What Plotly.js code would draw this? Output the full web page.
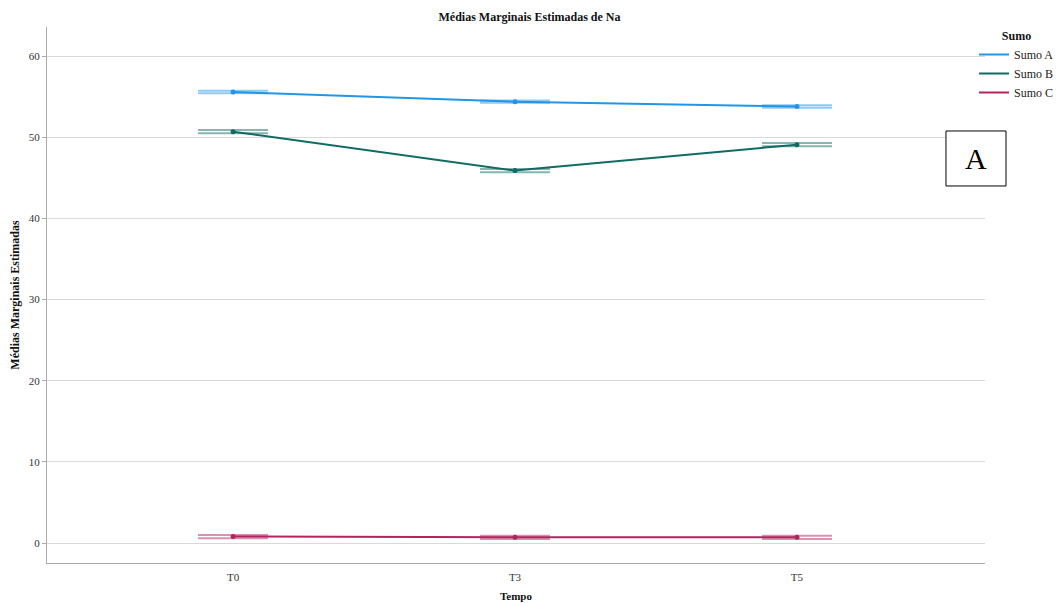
<!DOCTYPE html>
<html>
<head>
<meta charset="utf-8">
<script src="https://cdn.plot.ly/plotly-3.0.1.min.js"></script>
<style>html,body{margin:0;padding:0;background:#fff;}#chart{width:1059px;height:603px;}</style>
</head>
<body>
<div id="chart"></div>
<script>
var categories = ["T0", "T3", "T5"];
var seriesNames = ["Sumo A", "Sumo B", "Sumo C"];
var sumoA = [55.6, 54.4, 53.8];
var sumoB = [50.7, 45.9, 49.1];
var sumoC = [0.8, 0.7, 0.7];
var errA = [0.15, 0.15, 0.15];
var errB = [0.2, 0.2, 0.2];
var errC = [0.2, 0.2, 0.2];
var yTicks = [0, 10, 20, 30, 40, 50, 60];

var lineColors = ["#2196e6", "#0f6b63", "#b3245f"];
var capColors = ["rgba(33,150,230,0.5)", "rgba(15,107,99,0.5)", "rgba(179,36,95,0.5)"];
var values = [sumoA, sumoB, sumoC];
var errs = [errA, errB, errC];

var font = "Liberation Serif, Times New Roman, serif";

var traces = [];
values.forEach(function(v, i) {
  traces.push({
    type: "scatter",
    mode: "markers",
    showlegend: false,
    x: categories,
    y: v,
    marker: {color: lineColors[i], size: 5},
    error_y: {type: "data", array: errs[i], visible: true, width: 35, thickness: 2, color: capColors[i]}
  });
});
values.forEach(function(v, i) {
  traces.push({
    type: "scatter",
    mode: "lines",
    name: seriesNames[i],
    x: categories,
    y: v,
    line: {color: lineColors[i], width: 2}
  });
});

var layout = {
  width: 1059,
  height: 603,
  margin: {l: 47, r: 74, t: 27, b: 40, autoexpand: false},
  paper_bgcolor: "#ffffff",
  plot_bgcolor: "#ffffff",
  font: {family: font, size: 11, color: "#333333"},
  title: {text: "<b>Médias Marginais Estimadas de Na</b>", x: 0.5, xref: "container", y: 0.972, yanchor: "middle", font: {family: font, size: 12, color: "#111111"}},
  xaxis: {
    type: "category",
    range: [-0.66, 2.667],
    showgrid: false,
    zeroline: false,
    showline: true,
    linecolor: "#aaaaaa",
    linewidth: 1,
    ticks: "",
    ticklabelstandoff: 4,
    tickfont: {family: font, size: 11, color: "#333333"},
    title: {text: "<b>Tempo</b>", standoff: 10, font: {family: font, size: 11, color: "#111111"}}
  },
  yaxis: {
    range: [-2.46, 63.6],
    tickvals: yTicks,
    showgrid: true,
    gridcolor: "#d9d9d9",
    gridwidth: 1,
    zeroline: false,
    showline: true,
    linecolor: "#aaaaaa",
    linewidth: 1,
    ticks: "outside",
    ticklen: 4,
    tickcolor: "#aaaaaa",
    tickfont: {family: font, size: 11, color: "#333333"},
    title: {text: "<b>Médias Marginais Estimadas</b>", standoff: 6, font: {family: font, size: 12, color: "#111111"}}
  },
  showlegend: true,
  legend: {
    x: 0.9883, xanchor: "left", y: 1.005, yanchor: "top",
    title: {text: "<b>Sumo</b>", side: "top center", font: {family: font, size: 12, color: "#111111"}},
    font: {family: font, size: 12, color: "#222222"},
    tracegroupgap: 0,
    itemwidth: 30,
    bgcolor: "rgba(0,0,0,0)"
  },
  shapes: [{
    type: "rect", xref: "paper", yref: "paper",
    x0: 0.9584, x1: 1.0224, y0: 0.7034, y1: 0.806,
    line: {color: "#000000", width: 1}, fillcolor: "#ffffff"
  }],
  annotations: [{
    xref: "paper", yref: "paper", x: 0.9904, y: 0.7547,
    text: "A", showarrow: false, xanchor: "center", yanchor: "middle",
    font: {family: font, size: 30, color: "#000000"}
  }]
};

Plotly.newPlot("chart", traces, layout, {displayModeBar: false, staticPlot: true});
</script>
</body>
</html>
